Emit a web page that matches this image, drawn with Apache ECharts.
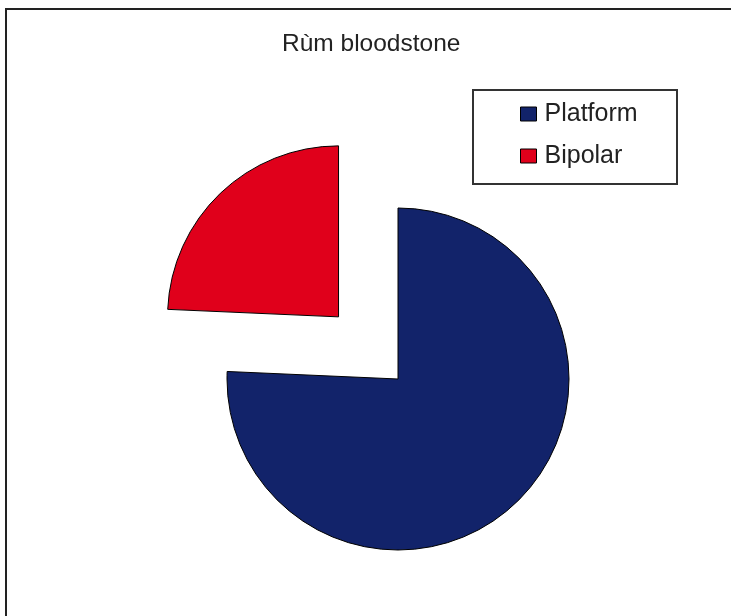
<!DOCTYPE html>
<html>
<head>
<meta charset="utf-8">
<script src="https://cdn.jsdelivr.net/npm/echarts@6/dist/echarts.min.js"></script>
<style>html,body{margin:0;padding:0;background:#fff}#c{width:731px;height:616px}</style>
</head>
<body>
<div id="c"></div>
<script>
const titleText = 'Rùm bloodstone';
const categories = ['Platform', 'Bipolar'];
const values = [75.7, 24.3];
const colors = ['#12236A', '#E0001B'];
const explodedIndex = 1;

const chart = echarts.init(document.getElementById('c'), null, {renderer: 'canvas'});
const font = '"Liberation Sans", Arial, sans-serif';
chart.setOption({
  animation: false,
  backgroundColor: '#fff',
  title: {
    text: titleText, left: 282, top: 32, padding: 0,
    textStyle: {fontFamily: font, fontSize: 24.5, fontWeight: 'normal', color: '#222'}
  },
  graphic: [
    {type: 'rect', shape: {x: 6, y: 9, width: 900, height: 900}, style: {fill: 'none', stroke: '#222', lineWidth: 2}, silent: true},
    {type: 'rect', shape: {x: 473, y: 90, width: 204, height: 94}, style: {fill: '#fff', stroke: '#333', lineWidth: 2}, silent: true, z: -1}
  ],
  legend: {
    orient: 'vertical', left: 520, top: 100, padding: 0,
    itemWidth: 16, itemHeight: 14, itemGap: 14, icon: 'rect',
    data: categories,
    itemStyle: {borderColor: '#000', borderWidth: 1},
    textStyle: {fontFamily: font, fontSize: 25, color: '#222', lineHeight: 28, padding: [0, 0, 0, 3]},
    selectedMode: false
  },
  series: [{
    type: 'pie',
    center: [398, 379],
    radius: 171,
    startAngle: 90,
    clockwise: true,
    selectedMode: 'multiple',
    selectedOffset: 86,
    label: {show: false},
    labelLine: {show: false},
    emphasis: {disabled: true},
    itemStyle: {borderColor: '#000', borderWidth: 1},
    data: categories.map((n, i) => ({
      name: n, value: values[i], selected: i === explodedIndex,
      itemStyle: {color: colors[i]}
    }))
  }]
});
</script>
</body>
</html>
